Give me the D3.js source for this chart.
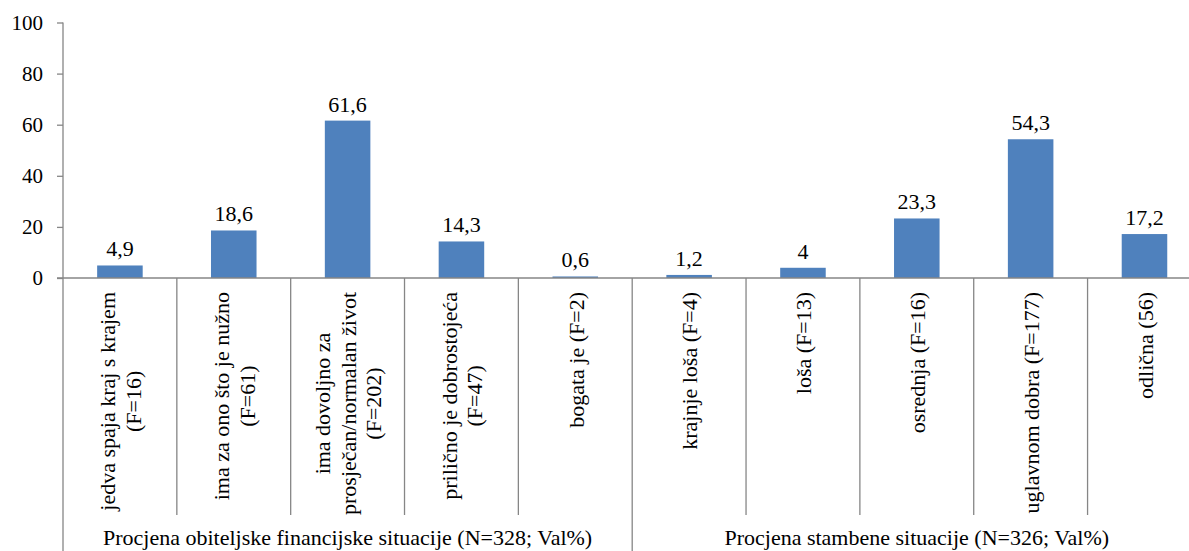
<!DOCTYPE html>
<html><head><meta charset="utf-8">
<script src="https://cdn.jsdelivr.net/npm/d3@7"></script>
<style>
body{margin:0;background:#fff}
svg{display:block}
</style>
</head><body><svg id="c" width="1189" height="551"></svg>
<script>
const categories = [
  "jedva spaja kraj s krajem\n(F=16)",
  "ima za ono što je nužno\n(F=61)",
  "ima dovoljno za\nprosječan/normalan život\n(F=202)",
  "prilično je dobrostojeća\n(F=47)",
  "bogata je (F=2)",
  "krajnje loša (F=4)",
  "loša (F=13)",
  "osrednja (F=16)",
  "uglavnom dobra (F=177)",
  "odlična (56)"
];
const values = [4.9, 18.6, 61.6, 14.3, 0.6, 1.2, 4, 23.3, 54.3, 17.2];
const groupLabels = [
  "Procjena obiteljske financijske situacije (N=328; Val%)",
  "Procjena stambene situacije (N=326; Val%)"
];
const groupCounts = [5, 5];
const yTickValues = [0, 20, 40, 60, 80, 100];

const FONT = '"Liberation Serif"';
const svg = d3.select("#c");
const W = 1189, H = 551;
const x0 = 63, x1 = 1201.4, yBase = 278, yTop = 22.5;
const grid = "#868686";
const n = categories.length;

const x = d3.scaleBand().domain(d3.range(n)).range([x0, x1]).paddingInner(0.6).paddingOuter(0.3);
const xCat = d3.scaleLinear().domain([0, n]).range([x0, x1]);
const y = d3.scaleLinear().domain([0, 100]).range([yBase, yTop]);

function txt(sel, size) {
  return sel.style("font-family", FONT).style("font-size", size + "px").attr("fill", "#000");
}

// y axis
const yAxis = d3.axisLeft(y).tickValues(yTickValues).tickSize(6).tickSizeOuter(0).tickPadding(14).tickFormat(d => d);
const gy = svg.append("g").attr("transform", `translate(${x0},0)`).call(yAxis);
gy.attr("font-family", null).attr("font-size", null);
gy.select(".domain").remove();
gy.selectAll(".tick line").attr("stroke", grid).attr("stroke-width", 1.3);
txt(gy.selectAll(".tick text"), 21);
svg.append("line").attr("x1", x0).attr("x2", x0).attr("y1", yTop).attr("y2", H).attr("stroke", grid).attr("stroke-width", 1.3);

// category boundaries
const groupEnds = [0];
groupCounts.forEach((c, i) => groupEnds.push(groupEnds[i] + c));
d3.range(1, n + 1).forEach(k => {
  const isGroup = groupEnds.includes(k);
  svg.append("line").attr("x1", xCat(k)).attr("x2", xCat(k))
    .attr("y1", yBase).attr("y2", isGroup ? H : 515)
    .attr("stroke", grid).attr("stroke-width", 1.3);
});

// bars
svg.append("g").selectAll("rect").data(values).join("rect")
  .attr("x", (d, i) => x(i)).attr("width", x.bandwidth())
  .attr("y", d => y(d)).attr("height", d => yBase - y(d))
  .attr("fill", "#4F81BD");

// baseline
svg.append("line").attr("x1", x0 - 6).attr("x2", W).attr("y1", yBase).attr("y2", yBase)
  .attr("stroke", grid).attr("stroke-width", 1.3);

// value labels
const fmt = d => String(d).replace(".", ",");
txt(svg.append("g").selectAll("text").data(values).join("text")
  .attr("x", (d, i) => x(i) + x.bandwidth() / 2)
  .attr("y", d => y(d) - 9)
  .attr("text-anchor", "middle"), 22)
  .text(fmt);

// category labels
const lh = 25.5;
categories.forEach((c, i) => {
  const lines = c.split("\n");
  const cx = xCat(i + 0.5);
  const g = svg.append("g");
  const texts = lines.map(l => txt(g.append("text"), 22).attr("text-anchor", "middle").text(l));
  const L = d3.max(texts, t => t.node().getComputedTextLength());
  const cy = 292 + L / 2;
  texts.forEach((t, j) => {
    const bx = cx + (j - (lines.length - 1) / 2) * lh + 8.25;
    t.attr("transform", `translate(${bx},${cy}) rotate(-90)`);
  });
});

// group labels
groupLabels.forEach((g, i) => {
  const cx = (xCat(groupEnds[i]) + xCat(groupEnds[i + 1])) / 2;
  txt(svg.append("text"), 22).attr("x", cx).attr("y", 545).attr("text-anchor", "middle").text(g);
});
</script>
</body></html>
